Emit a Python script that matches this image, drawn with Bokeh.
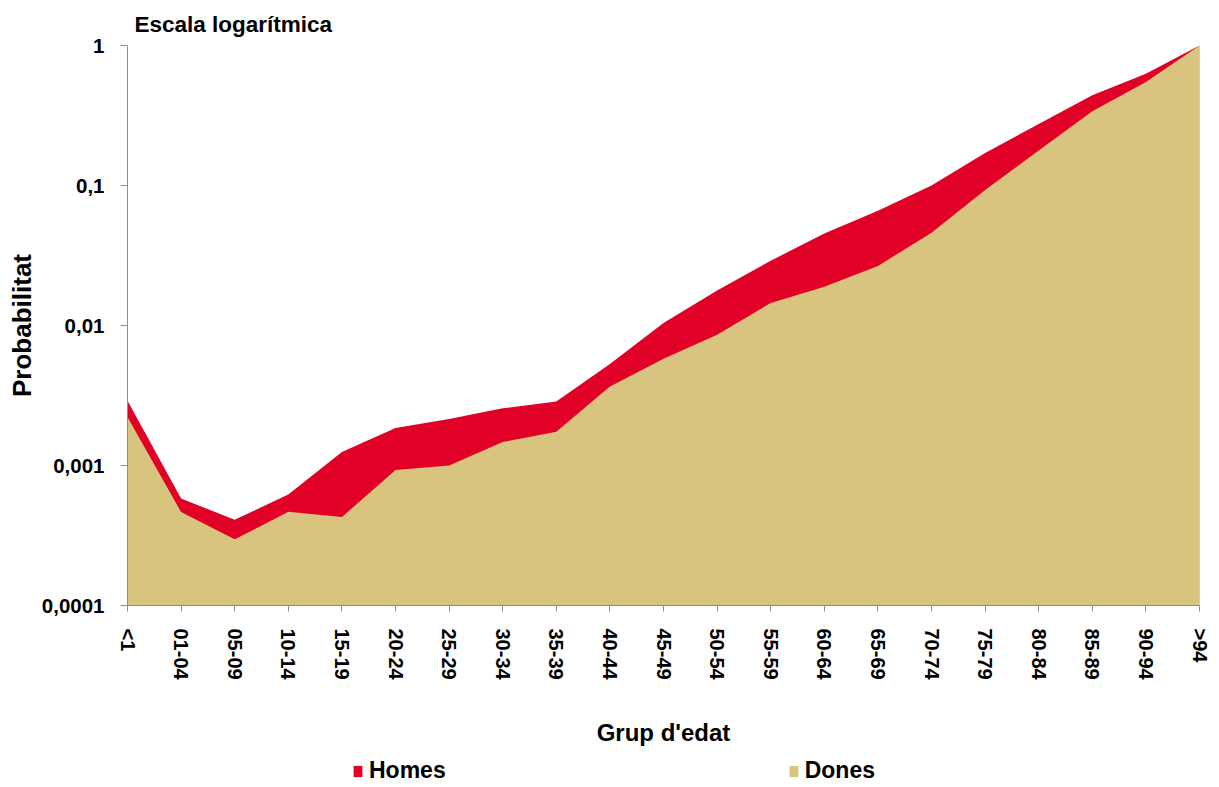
from bokeh.plotting import figure
from bokeh.layouts import column
from bokeh.models import (Range1d, FixedTicker, CustomJSTickFormatter, Legend, LegendItem,
                          ColumnDataSource)
from bokeh.embed import file_html
from bokeh.resources import INLINE

categories = ["<1", "01-04", "05-09", "10-14", "15-19", "20-24", "25-29", "30-34", "35-39",
              "40-44", "45-49", "50-54", "55-59", "60-64", "65-69", "70-74", "75-79",
              "80-84", "85-89", "90-94", ">94"]
homes = [0.0029, 0.00058, 0.00041, 0.00062, 0.00125, 0.00185, 0.00215, 0.00256, 0.00286,
         0.0053, 0.0104, 0.0178, 0.029, 0.0455, 0.066, 0.100, 0.171, 0.275, 0.442, 0.628, 1.0]
dones = [0.00222, 0.000465, 0.000297, 0.000467, 0.000428, 0.00093, 0.00100, 0.00147, 0.00174,
         0.00367, 0.00578, 0.0086, 0.0145, 0.0189, 0.0266, 0.0460, 0.093, 0.178, 0.339, 0.549, 1.0]
y_ticks = [0.0001, 0.001, 0.01, 0.1, 1]
series_names = ["Homes", "Dones"]

RED = "#E10026"
TAN = "#D8C37F"
FONT = "Liberation Sans"

x = list(range(len(categories)))
bottom = [y_ticks[0]] * len(categories)
src = ColumnDataSource(dict(x=x, homes=homes, dones=dones, bottom=bottom))

p = figure(width=1211, height=750, y_axis_type="log", output_backend="svg",
           toolbar_location=None, x_range=Range1d(0, len(categories) - 1),
           y_range=Range1d(y_ticks[0], y_ticks[-1]),
           min_border_left=127, min_border_right=12, min_border_top=45, min_border_bottom=145)
p.outline_line_color = None
p.xgrid.visible = False
p.ygrid.visible = False

p.title.text = "Escala logarítmica"
p.title.align = "left"
p.title.offset = 7
p.title.text_font = FONT
p.title.text_font_size = "22.5px"
p.title.text_font_style = "bold"
p.title.text_color = "black"
p.title.standoff = 17

p.varea(x="x", y1="bottom", y2="homes", source=src, fill_color=RED)
p.varea(x="x", y1="bottom", y2="dones", source=src, fill_color=TAN)

# y axis
p.yaxis.ticker = FixedTicker(ticks=y_ticks, minor_ticks=[])
p.yaxis.formatter = CustomJSTickFormatter(code="return tick.toString().replace('.', ',');")
p.yaxis.axis_label = "Probabilitat"
p.yaxis.axis_label_text_font = FONT
p.yaxis.axis_label_text_font_size = "26px"
p.yaxis.axis_label_text_font_style = "bold"
p.yaxis.axis_label_text_color = "black"
p.yaxis.axis_label_standoff = 2
p.yaxis.major_label_text_font = FONT
p.yaxis.major_label_text_font_size = "20.5px"
p.yaxis.major_label_text_font_style = "bold"
p.yaxis.major_label_text_color = "black"
p.yaxis.major_label_standoff = 16

# x axis
p.xaxis.ticker = FixedTicker(ticks=x, minor_ticks=[])
p.xaxis.major_label_overrides = {i: c for i, c in zip(x, categories)}
p.xaxis.major_label_orientation = "vertical"
p.xaxis.axis_label = "Grup d'edat"
p.xaxis.axis_label_text_font = FONT
p.xaxis.axis_label_text_font_size = "24px"
p.xaxis.axis_label_text_font_style = "bold"
p.xaxis.axis_label_text_color = "black"
p.xaxis.axis_label_standoff = 36
p.xaxis.major_label_text_font = FONT
p.xaxis.major_label_text_font_size = "20px"
p.xaxis.major_label_text_font_style = "bold"
p.xaxis.major_label_text_color = "black"
p.xaxis.major_label_standoff = 17

for ax in (p.xaxis, p.yaxis):
    ax.axis_line_color = "#8C8C8C"
    ax.major_tick_line_color = "#8C8C8C"
    ax.major_tick_in = 0
    ax.minor_tick_line_color = None
p.yaxis.major_tick_out = 7
p.xaxis.major_tick_out = 6

# legend strip below the chart (proxy areas lie outside this strip's visible range)
lg = figure(width=1211, height=36, output_backend="svg", toolbar_location=None,
            x_range=Range1d(0, len(categories) - 1), y_range=Range1d(2, 3),
            min_border_left=127, min_border_right=12, min_border_top=0, min_border_bottom=0,
            x_axis_location=None, y_axis_location=None)
lg.outline_line_color = None
lg.xgrid.visible = False
lg.ygrid.visible = False
lg_h = lg.varea(x="x", y1="bottom", y2="homes", source=src, fill_color=RED)
lg_d = lg.varea(x="x", y1="bottom", y2="dones", source=src, fill_color=TAN)

legend = Legend(items=[LegendItem(label=series_names[0], renderers=[lg_h]),
                       LegendItem(label=series_names[1], renderers=[lg_d])],
                orientation="horizontal", location=(225, 2),
                padding=0, margin=0, border_line_color=None, background_fill_alpha=0,
                glyph_width=11, glyph_height=14, label_standoff=6, spacing=342,
                label_text_font=FONT, label_text_font_size="23px",
                label_text_font_style="bold", label_text_color="black")
lg.add_layout(legend, "center")

layout = column(p, lg, spacing=0)
open("out.html", "w").write(file_html(layout, INLINE))
